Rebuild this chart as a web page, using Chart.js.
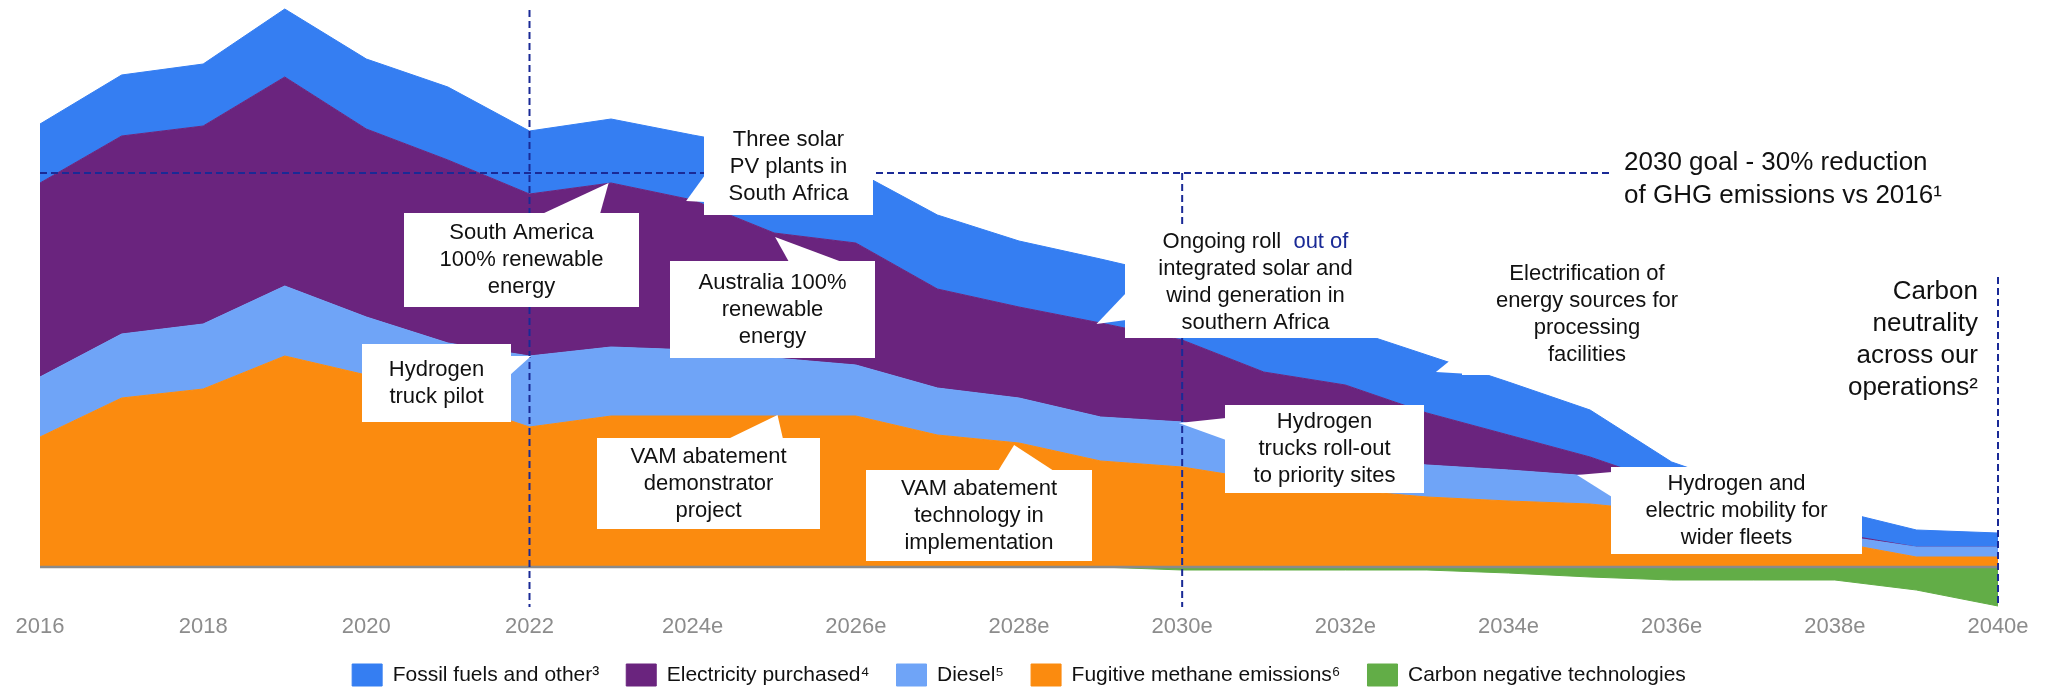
<!DOCTYPE html>
<html>
<head>
<meta charset="utf-8">
<script src="https://cdn.jsdelivr.net/npm/chart.js@4.4.1/dist/chart.umd.min.js"></script>
<style>
  html, body { margin: 0; padding: 0; background: #fff; }
</style>
</head>
<body>
<canvas id="chart" width="2048" height="690"></canvas>
<script>
// years on the x axis (every second one is labelled)
const years = ['2016', '2017', '2018', '2019', '2020', '2021', '2022', '2023e', '2024e', '2025e',
  '2026e', '2027e', '2028e', '2029e', '2030e', '2031e', '2032e', '2033e', '2034e', '2035e',
  '2036e', '2037e', '2038e', '2039e', '2040e'];

// layer thicknesses (stacked from the bottom up)
const fugitiveMethane = [5.20, 6.76, 7.12, 8.44, 7.68, 6.68, 5.60, 6.04, 6.04, 6.04,
  6.04, 5.28, 4.96, 4.24, 4.00, 3.48, 3.08, 2.80, 2.64, 2.52,
  2.20, 1.48, 1.00, 0.40, 0.40];
const diesel = [2.40, 2.56, 2.60, 2.80, 2.32, 2.28, 2.84, 2.76, 2.64, 2.32,
  2.04, 1.88, 1.80, 1.76, 1.80, 1.40, 1.28, 1.28, 1.24, 1.12,
  0.88, 0.32, 0.28, 0.40, 0.40];
const electricityPurchased = [7.76, 7.92, 7.92, 8.36, 7.52, 7.32, 6.48, 6.56, 6.00, 5.00,
  4.88, 3.96, 3.64, 3.76, 3.28, 2.92, 2.92, 2.08, 1.40, 0.76,
  0.20, 0.16, 0.08, 0, 0];
const fossilFuels = [2.36, 2.44, 2.48, 2.72, 2.80, 2.92, 2.52, 2.56, 2.60, 3.32,
  2.88, 2.96, 2.64, 2.56, 2.48, 2.76, 2.28, 2.32, 2.12, 1.88,
  0.92, 1.12, 0.92, 0.68, 0.56];
const carbonNegative = [0, 0, 0, 0, 0, 0, 0, 0, 0, 0,
  0, 0, 0, 0, -0.12, -0.12, -0.12, -0.12, -0.24, -0.40,
  -0.52, -0.52, -0.52, -0.92, -1.56];

const legendOrder = ['Fossil fuels and other³', 'Electricity purchased⁴', 'Diesel⁵',
  'Fugitive methane emissions⁶', 'Carbon negative technologies'];

const goalLevel = 15.76;   // dashed 2030 goal line
const goalEnd = 19.25;     // where the goal line stops (x index)

const INK = '#111111';
const NAVY = '#1a2a96';
const FONT = '"Liberation Sans", Arial, "DejaVu Sans", sans-serif';

// callout boxes: box = [left, top, width, height] in px, tip = [x index, value]
const callouts = [
  { lines: ['South America', '100% renewable', 'energy'], box: [404, 213, 235, 94], base: [[542, 214], [600, 214]], tip: [6.97, 15.36] },
  { lines: ['Three solar', 'PV plants in', 'South Africa'], box: [704, 118, 169, 97], base: [[705, 175], [705, 202]], tip: [7.92, 14.64] },
  { lines: ['Australia 100%', 'renewable', 'energy'], box: [670, 261, 205, 97], base: [[789, 262], [842, 262]], tip: [9.01, 13.2] },
  { lines: ['Hydrogen', 'truck pilot'], box: [362, 344, 149, 78], base: [[510, 356], [510, 375]], tip: [6.02, 8.44] },
  { lines: ['VAM abatement', 'demonstrator', 'project'], box: [597, 438, 223, 91], base: [[728, 439], [783, 439]], tip: [9.04, 6.08] },
  { lines: ['VAM abatement', 'technology in', 'implementation'], box: [866, 470, 226, 91], base: [[998, 471], [1054, 471]], tip: [11.94, 4.88] },
  { lines: [[['Ongoing roll  ', INK], ['out of', NAVY]], 'integrated solar and', 'wind generation in', 'southern Africa'], box: [1125, 227, 261, 111], base: [[1126, 293], [1126, 320]], tip: [12.95, 9.72] },
  { lines: ['Hydrogen', 'trucks roll-out', 'to priority sites'], box: [1225, 405, 199, 88], base: [[1226, 418], [1226, 440]], tip: [13.96, 5.76] },
  { lines: ['Electrification of', 'energy sources for', 'processing', 'facilities'], box: [1462, 253, 250, 122], base: [[1463, 350], [1470, 374]], tip: [17.11, 7.8] },
  { lines: ['Hydrogen and', 'electric mobility for', 'wider fleets'], box: [1611, 467, 251, 87], base: [[1612, 472], [1612, 497]], tip: [18.84, 3.68] }
];

function drawLine(ctx, line, cx, cy) {
  const parts = typeof line === 'string' ? [[line, INK]] : line;
  const total = parts.reduce((w, p) => w + ctx.measureText(p[0]).width, 0);
  let x = cx - total / 2;
  ctx.textAlign = 'left';
  parts.forEach(([t, c]) => {
    ctx.fillStyle = c;
    ctx.fillText(t, x, cy);
    x += ctx.measureText(t).width;
  });
}

const overlay = {
  id: 'overlay',
  afterDatasetsDraw(chart) {
    const { ctx, chartArea } = chart;
    const x = chart.scales.x, y = chart.scales.y;
    ctx.save();

    // zero line
    ctx.strokeStyle = '#8a8a8a';
    ctx.lineWidth = 2.5;
    ctx.beginPath();
    ctx.moveTo(chartArea.left, y.getPixelForValue(0));
    ctx.lineTo(chartArea.right, y.getPixelForValue(0));
    ctx.stroke();

    // dashed guides
    ctx.strokeStyle = NAVY;
    ctx.lineWidth = 2;
    ctx.setLineDash([7, 4]);
    const seg = (x1, v1, x2, v2) => {
      ctx.beginPath();
      ctx.moveTo(x.getPixelForValue(x1), y.getPixelForValue(v1));
      ctx.lineTo(x.getPixelForValue(x2), y.getPixelForValue(v2));
      ctx.stroke();
    };
    seg(0, goalLevel, goalEnd, goalLevel);
    seg(6, 22.28, 6, y.min);
    seg(14, goalLevel, 14, y.min);
    seg(24, 11.6, 24, y.min);
    ctx.setLineDash([]);

    // callouts
    ctx.font = '22px ' + FONT;
    ctx.textBaseline = 'middle';
    callouts.forEach(c => {
      const [bx, by, bw, bh] = c.box;
      ctx.fillStyle = '#ffffff';
      ctx.fillRect(bx, by, bw, bh);
      ctx.beginPath();
      ctx.moveTo(c.base[0][0], c.base[0][1]);
      ctx.lineTo(x.getPixelForValue(c.tip[0]), y.getPixelForValue(c.tip[1]));
      ctx.lineTo(c.base[1][0], c.base[1][1]);
      ctx.closePath();
      ctx.fill();
      const lh = 27;
      const top = by + bh / 2 - (c.lines.length - 1) * lh / 2;
      c.lines.forEach((l, i) => drawLine(ctx, l, bx + bw / 2, top + i * lh));
    });

    // goal and neutrality notes
    ctx.font = '26px ' + FONT;
    ctx.fillStyle = INK;
    ctx.textAlign = 'left';
    ctx.fillText('2030 goal - 30% reduction', 1624, 163);
    ctx.fillText('of GHG emissions vs 2016¹', 1624, 196);
    ctx.textAlign = 'right';
    ['Carbon', 'neutrality', 'across our', 'operations²'].forEach((t, i) => {
      ctx.fillText(t, 1978, 292 + i * 32);
    });
    ctx.restore();
  }
};

const area = (label, data, color, fill, stack) => ({
  label, data, fill, stack,
  backgroundColor: color,
  borderColor: color,
  borderWidth: 1,
  pointRadius: 0,
  tension: 0
});

Chart.defaults.font.family = FONT;

new Chart(document.getElementById('chart'), {
  type: 'line',
  data: {
    labels: years,
    datasets: [
      area('Fugitive methane emissions⁶', fugitiveMethane, '#fb8b0f', 'origin', 'emissions'),
      area('Diesel⁵', diesel, '#6fa4f7', '-1', 'emissions'),
      area('Electricity purchased⁴', electricityPurchased, '#6a247e', '-1', 'emissions'),
      area('Fossil fuels and other³', fossilFuels, '#357ef2', '-1', 'emissions'),
      area('Carbon negative technologies', carbonNegative, '#62ad47', 'origin', 'removals')
    ]
  },
  options: {
    responsive: false,
    devicePixelRatio: 1,
    animation: false,
    layout: { padding: { top: 7, left: 40, right: 50, bottom: -6 } },
    scales: {
      x: {
        grid: { display: false, drawTicks: false },
        border: { display: false },
        ticks: {
          autoSkip: false,
          maxRotation: 0,
          padding: 7,
          color: '#8c8c8c',
          font: { size: 22 },
          callback(value, index) {
            return index % 2 === 0 ? this.getLabelForValue(value) : '';
          }
        },
        afterFit(scale) { scale.height = 30; }
      },
      y: {
        display: false,
        stacked: true,
        min: -1.6,
        max: 22.4
      }
    },
    plugins: {
      legend: {
        position: 'bottom',
        labels: {
          boxWidth: 30,
          boxHeight: 22,
          padding: 27,
          color: INK,
          font: { size: 21 },
          sort: (a, b) => legendOrder.indexOf(a.text) - legendOrder.indexOf(b.text)
        }
      },
      tooltip: { enabled: false }
    }
  },
  plugins: [overlay]
});
</script>
</body>
</html>
